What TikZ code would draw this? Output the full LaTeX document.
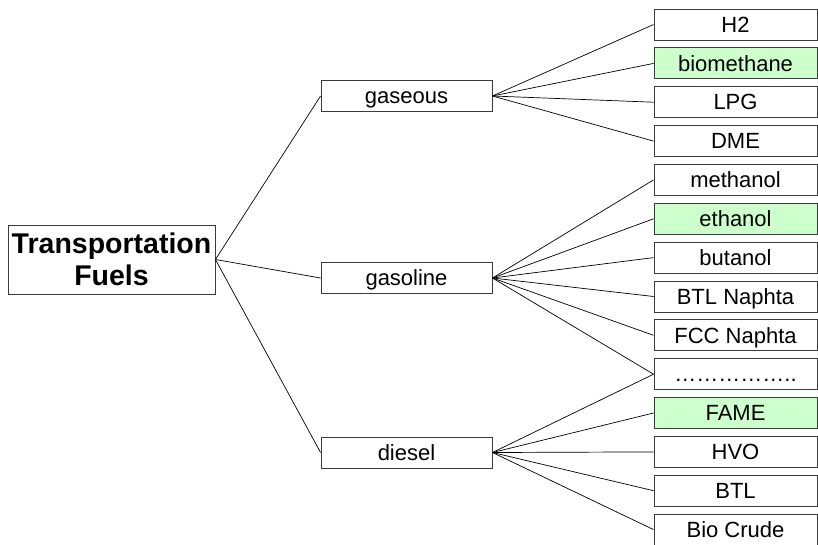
\documentclass[tikz,border=0pt]{standalone}
\usepackage{fontspec}
\setmainfont{Liberation Sans}
\definecolor{fuelgreen}{RGB}{204,255,204}
\definecolor{boxline}{RGB}{60,60,60}
\begin{document}
\begin{tikzpicture}[x=1pt,y=-1pt,
  fuel/.style={draw=boxline, line width=0.9pt, fill=white, minimum width=163pt, minimum height=31pt, inner sep=0pt, text height=15.5pt, text depth=0pt, font=\fontsize{22}{22}\selectfont},
  cat/.style={fuel, minimum width=171pt},
  rootbox/.style={draw=boxline, line width=0.9pt, fill=white, minimum width=207pt, minimum height=69pt, inner sep=0pt, align=center, font=\fontsize{28.5}{32}\selectfont\bfseries},
  bio/.style={fill=fuelgreen},
  link/.style={line width=0.7pt, black}]
\useasboundingbox (0,0) rectangle (818,544);
\node[rootbox] (root) at (111.5,259.5) {Transportation\\Fuels};
\node[cat] (gas) at (406.5,96) {gaseous};
\node[cat] (gsl) at (406.5,278) {gasoline};
\node[cat] (dsl) at (406.5,452.5) {diesel};
\node[fuel] (f0) at (735.5,24.5) {H2};
\node[fuel,bio] (f1) at (735.5,63.4) {biomethane};
\node[fuel] (f2) at (735.5,102.2) {LPG};
\node[fuel] (f3) at (735.5,141.1) {DME};
\node[fuel] (f4) at (735.5,179.9) {methanol};
\node[fuel,bio] (f5) at (735.5,218.8) {ethanol};
\node[fuel] (f6) at (735.5,257.6) {butanol};
\node[fuel] (f7) at (735.5,296.5) {BTL Naphta};
\node[fuel] (f8) at (735.5,335.3) {FCC Naphta};
\node[fuel] (f9) at (735.5,374.2) {……………..};
\node[fuel,bio] (f10) at (735.5,413) {FAME};
\node[fuel] (f11) at (735.5,451.9) {HVO};
\node[fuel] (f12) at (735.5,490.7) {BTL};
\node[fuel] (f13) at (735.5,529.6) {Bio Crude};
\foreach \c in {gas,gsl,dsl} \draw[link] (root.east) -- (\c.west);
\foreach \f in {0,1,2,3} \draw[link] (gas.east) -- (f\f.west);
\foreach \f in {4,5,6,7,8,9} \draw[link] (gsl.east) -- (f\f.west);
\foreach \f in {9,10,11,12,13} \draw[link] (dsl.east) -- (f\f.west);
\end{tikzpicture}
\end{document}
